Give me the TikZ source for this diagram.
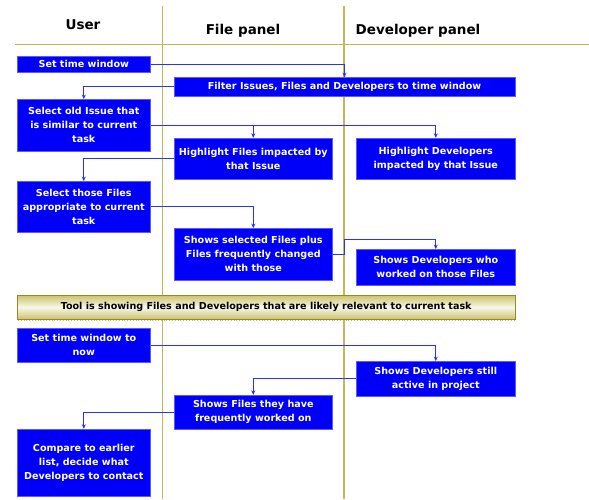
\documentclass[tikz,border=0pt]{standalone}
\usepackage{fontspec}
\setmainfont{DejaVu Sans}
\usetikzlibrary{arrows.meta}
\definecolor{lanecol}{RGB}{196,184,84}
\definecolor{boxblue}{RGB}{0,0,250}
\definecolor{edgeblue}{RGB}{90,90,255}
\definecolor{linkblue}{RGB}{40,50,255}
\definecolor{bannerrim}{RGB}{150,140,30}
\tikzset{
  lane/.style={draw=lanecol, line width=1.3pt},
  head/.style={font=\fontsize{13.5}{15}\selectfont\bfseries},
  task/.style={draw=edgeblue, fill=boxblue, text=white, align=center, inner sep=0pt,
    font=\fontsize{9.6}{14}\selectfont\bfseries},
  link/.style={draw=linkblue, line width=1pt, -{Stealth[length=4.5pt,width=4pt]}},
  banner/.style={draw=bannerrim, line width=0.8pt, top color=lanecol!85, bottom color=lanecol!85,
    middle color=lanecol!12, align=center, inner sep=0pt,
    font=\fontsize{9.6}{11}\selectfont\bfseries}
}
\begin{document}
\begin{tikzpicture}[x=1pt, y=-1pt]
		%%%%% START %%%%%
		\useasboundingbox (0, 0) rectangle (589, 499);
		
		\draw[lane] (15, 44.3) -- (589, 44.3);
		\draw[lane] (162.3, 6) -- (162.3, 499);
		\draw[lane] (344, 6) -- (344, 499);
		
		\node[head] (user) at (83, 25) {User};
		\node[head] (filep) at (243, 31) {File panel};
		\node[head] (devp) at (418, 31) {Developer panel};
		
		\node[task, minimum width=133, minimum height=16.7] (time) at (83.8, 64.3) {Set time window};
		\node[task, minimum width=341, minimum height=18.4] (filter) at (344.5, 86.5) {Filter Issues, Files and Developers to time window};
		\node[task, minimum width=133, minimum height=51.4] (oldissue) at (83.8, 125) {Select old Issue that\\is similar to current\\task};
		\node[task, minimum width=158.7, minimum height=41] (hlfiles) at (253.3, 158.5) {Highlight Files impacted by\\that Issue};
		\node[task, minimum width=158.3, minimum height=41] (hldevs) at (435.8, 158.5) {Highlight Developers\\impacted by that Issue};
		\node[task, minimum width=133, minimum height=51] (selfiles) at (83.8, 206.8) {Select those Files\\appropriate to current\\task};
		\node[task, minimum width=158.7, minimum height=51.4] (showsel) at (253.3, 254) {Shows selected Files plus\\Files frequently changed\\with those};
		\node[task, minimum width=158.3, minimum height=35.4] (showdevs) at (435.8, 267) {Shows Developers who\\worked on those Files};
		
		\draw[gray!60, line width=0.8pt, dotted] (18, 320.5) -- (515, 320.5);
		\node[banner, minimum width=497.7, minimum height=23.7] (tool) at (266.2, 307.2) {Tool is showing Files and Developers that are likely relevant to current task};
		
		\node[task, minimum width=133, minimum height=34] (now) at (83.8, 345.3) {Set time window to\\now};
		\node[task, minimum width=158.3, minimum height=35] (active) at (435.8, 378.8) {Shows Developers still\\active in project};
		\node[task, minimum width=158.7, minimum height=34.3] (worked) at (253.3, 412.2) {Shows Files they have\\frequently worked on};
		\node[task, minimum width=133, minimum height=67.7] (compare) at (83.8, 462.8) {Compare to earlier\\list, decide what\\Developers to contact};
		
		\coordinate (bend) at (344, 239.3);
		
		\draw[link] (time.east) -| (filter.north);
		\draw[link] (filter.west) -| (oldissue.north);
		\draw[link] (oldissue.east) -| (hldevs.north);
		\draw[link] (oldissue.east -| hlfiles.north) -- (hlfiles.north);
		\draw[link] (hlfiles.west) -| (selfiles.north);
		\draw[link] (selfiles.east) -| (showsel.north);
		\draw[link] (showsel.east) -| (bend) -| (showdevs.north);
		\draw[link] (now.east) -| (active.north);
		\draw[link] (active.west) -| (worked.north);
		\draw[link] (worked.west) -| (compare.north);
		%%%%% END %%%%%
\end{tikzpicture}
\end{document}
